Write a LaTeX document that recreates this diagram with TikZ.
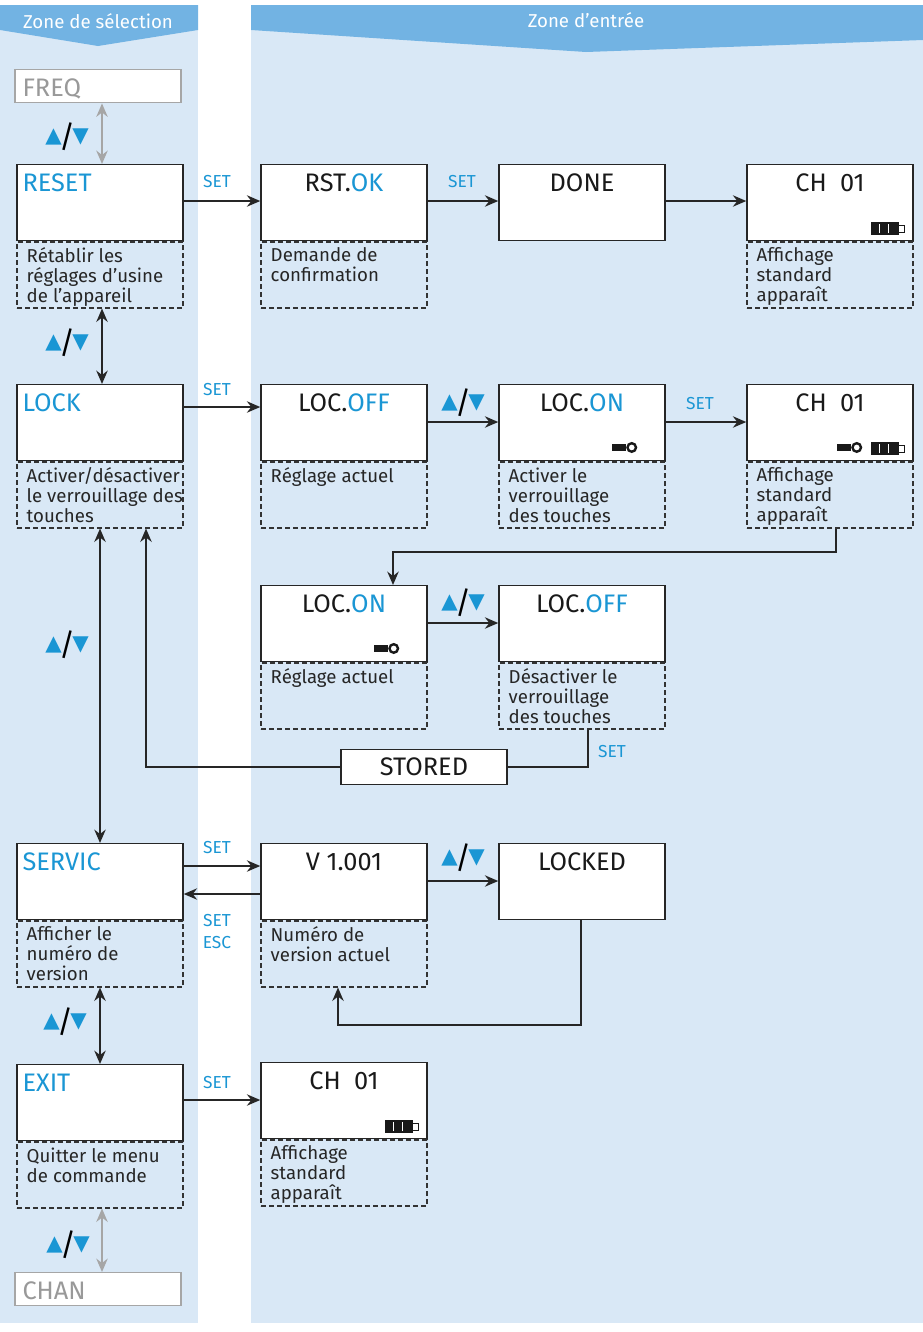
\documentclass[tikz,border=0pt]{standalone}
\usepackage{fontspec}
\setmainfont{Fira Sans}
\newfontfamily\sym{DejaVu Sans}
\usetikzlibrary{arrows.meta}
\definecolor{bg}{HTML}{D9E8F6}
\definecolor{hd}{HTML}{72B3E3}
\definecolor{bl}{HTML}{1A96D4}
\newcommand\ud{{\sym\fontsize{16}{16}\selectfont\color{bl}▲}\hspace{-2pt}\raisebox{-4pt}{\fontsize{23}{23}\selectfont/}\hspace{-2pt}{\sym\fontsize{16}{16}\selectfont\color{bl}▼}}
\begin{document}
\begin{tikzpicture}[x=0.75pt,y=-0.75pt,
  lcd/.style={draw=black!85,line width=1.1pt,fill=white,minimum width=124.5pt,minimum height=57pt,inner sep=0pt,anchor=north},
  dsc/.style={draw=black!80,dash pattern=on 3.5pt off 2.5pt,line width=0.8pt,minimum width=124.5pt,minimum height=49.5pt,inner sep=0pt,anchor=north},
  dtx/.style={anchor=north west,align=left,font=\fontsize{14}{15}\selectfont,inner sep=0pt,text=black!85},
  ttl/.style={font=\fontsize{19}{20}\selectfont,inner sep=0pt,text=black!90},
  arr/.style={-{Stealth[length=10pt,width=8.5pt]},line width=1.5pt,black!85},
  darr/.style={{Stealth[length=10pt,width=8.5pt]}-{Stealth[length=10pt,width=8.5pt]},line width=1.5pt,black!85},
  garr/.style={{Stealth[length=10pt,width=8.5pt]}-{Stealth[length=10pt,width=8.5pt]},line width=1.5pt,black!35},
  lab/.style={font=\fontsize{13}{16.5}\selectfont,text=bl,inner sep=0pt}]
\useasboundingbox (0,0) rectangle (923,1332);
\fill[white] (0,0) rectangle (923,1332);
\fill[bg] (0,5) rectangle (198,1323);
\fill[bg] (251,5) rectangle (923,1323);
\fill[hd] (0,5) -- (198,5) -- (198,30) -- (98,46) -- (0,30) -- cycle;
\fill[hd] (251,5) -- (923,5) -- (923,40) -- (586,52) -- (251,30) -- cycle;
\node[text=white,font=\fontsize{14}{15}\selectfont,inner sep=0pt] (h1) at (98,21) {Zone de sélection};
\node[text=white,font=\fontsize{14}{15}\selectfont,inner sep=0pt] (h2) at (586,20) {Zone d’entrée};
\newcommand\scr[4]{\node[lcd] (#1) at (#2,#3) {};
  \node[dsc] (#1d) at (#1.south) {};
  \node[dtx] (#1t) at ([shift={(10,6)}]#1d.north west) {#4};}
\newcommand\ctt[2]{\node[ttl,anchor=base] (#1x) at ([shift={(0,27)}]#1.north) {#2};}
\newcommand\ltt[2]{\node[ttl,anchor=base west,text=bl] (#1x) at ([shift={(6,27)}]#1.north west) {#2};}
\newcommand\bat[1]{%
  \fill[black!90] ([shift={(-43,-6)}]#1.south east) rectangle ([shift={(-15,-19)}]#1.south east);
  \draw[white,line width=0.9pt] ([shift={(-34,-8)}]#1.south east) -- ([shift={(-34,-17)}]#1.south east)
     ([shift={(-25,-8)}]#1.south east) -- ([shift={(-25,-17)}]#1.south east);
  \draw[black!90,line width=0.7pt] ([shift={(-15,-9)}]#1.south east) rectangle ([shift={(-9,-16)}]#1.south east);}
\newcommand\key[2]{%
  \fill[black!90] ([shift={(-#2-14,-10)}]#1.south east) rectangle ([shift={(-#2,-17)}]#1.south east);
  \draw[black!90,line width=1.8pt] ([shift={(-#2+6,-14)}]#1.south east) circle (3.2pt);}
% FREQ
\node[draw=black!35,line width=1.1pt,fill=white,minimum width=124.5pt,minimum height=24.75pt,anchor=north,inner sep=0pt] (freq) at (98,69) {};
\node[ttl,text=black!40,anchor=base west] (freqt) at ([shift={(8,-7)}]freq.south west) {FREQ};
% row reset
\scr{reset}{100}{164}{Rétablir les\\réglages d’usine\\de l’appareil}\ltt{reset}{RESET}
\scr{rst}{344}{164}{Demande de\\confirmation}\ctt{rst}{RST.\textcolor{bl}{OK}}
\node[lcd] (done) at (582,164) {};\ctt{done}{DONE}
\scr{ch1}{830}{164}{Affichage\\standard\\apparaît}\ctt{ch1}{CH\ \ 01}\bat{ch1}
% row lock
\scr{lock}{100}{384}{Activer/désactiver\\le verrouillage des\\touches}\ltt{lock}{LOCK}
\scr{lof}{344}{384}{Réglage actuel}\ctt{lof}{LOC.\textcolor{bl}{OFF}}
\scr{lon}{582}{384}{Activer le\\verrouillage\\des touches}\ctt{lon}{LOC.\textcolor{bl}{ON}}\key{lon}{40}
\scr{ch2}{830}{384}{Affichage\\standard\\apparaît}\ctt{ch2}{CH\ \ 01}\bat{ch2}\key{ch2}{63}
% row lock2
\scr{lon2}{344}{585}{Réglage actuel}\ctt{lon2}{LOC.\textcolor{bl}{ON}}\key{lon2}{40}
\scr{lof2}{582}{585}{Désactiver le\\verrouillage\\des touches}\ctt{lof2}{LOC.\textcolor{bl}{OFF}}
\node[draw=black!85,line width=1.1pt,fill=white,minimum width=124.5pt,minimum height=26pt,inner sep=0pt,ttl] (st) at (424,767) {STORED};
% row servic
\scr{serv}{100}{843}{Afficher le\\numéro de\\version}\ltt{serv}{SERVIC}
\scr{ver}{344}{843}{Numéro de\\version actuel}\ctt{ver}{V 1.001}
\node[lcd] (lkd) at (582,843) {};\ctt{lkd}{LOCKED}
% row exit
\scr{exit}{100}{1064}{Quitter le menu\\de commande}\ltt{exit}{EXIT}
\scr{ch3}{344}{1062}{Affichage\\standard\\apparaît}\ctt{ch3}{CH\ \ 01}\bat{ch3}
\node[draw=black!35,line width=1.1pt,fill=white,minimum width=124.5pt,minimum height=24.75pt,anchor=north,inner sep=0pt] (chan) at (98,1272) {};
\node[ttl,text=black!40,anchor=base west] (chant) at ([shift={(8,-7)}]chan.south west) {CHAN};
% vertical
\draw[garr] (freq.south -| 102,0) -- (reset.north -| 102,0);
\draw[darr] (resetd.south -| 102,0) -- (lock.north -| 102,0);
\draw[darr] (lockd.south -| 100,0) -- (serv.north -| 100,0);
\draw[darr] (servd.south -| 100,0) -- (exit.north -| 100,0);
\draw[garr] (exitd.south -| 102,0) -- (chan.north -| 102,0);
\node (u1) at (67,137) {\ud};
\node (u2) at (67,343) {\ud};
\node (u3) at (67,645) {\ud};
\node (u4) at (65,1022) {\ud};
\node (u5) at (68,1245) {\ud};
% horizontal
\draw[arr] (reset.east |- 0,201) -- (rst.west |- 0,201);
\draw[arr] (rst.east |- 0,201) -- (done.west |- 0,201);
\draw[arr] (done.east |- 0,201) -- (ch1.west |- 0,201);
\node[lab] (s1) at (217,182) {SET};
\node[lab] (s2) at (462,182) {SET};
\draw[arr] (lock.east |- 0,407) -- (lof.west |- 0,407);
\draw[arr] (lof.east |- 0,422) -- (lon.west |- 0,422);
\draw[arr] (lon.east |- 0,422) -- (ch2.west |- 0,422);
\node[lab] (s3) at (217,390) {SET};
\node (u6) at (463,403) {\ud};
\node[lab] (s4) at (700,404) {SET};
\draw[arr] (ch2d.south -| 836,0) |- (393,552) -- (lon2.north -| 393,0);
\draw[arr] (lon2.east |- 0,623) -- (lof2.west |- 0,623);
\node (u7) at (463,603) {\ud};
\draw[line width=1.5pt,black!85] (lof2d.south -| 588,0) |- (st.east);
\draw[arr] (st.west) -| (lockd.south -| 146,0);
\node[lab] (s5) at (612,752) {SET};
\draw[arr] (serv.east |- 0,866) -- (ver.west |- 0,866);
\draw[arr] (ver.west |- 0,894) -- (serv.east |- 0,894);
\node[lab] (s6) at (217,848) {SET};
\node[lab,align=center] (s7) at (217,932) {SET\\ESC};
\draw[arr] (ver.east |- 0,881) -- (lkd.west |- 0,881);
\node (u8) at (463,858) {\ud};
\draw[arr] (lkd.south -| 581,0) |- (338,1025) -- (verd.south -| 338,0);
\draw[arr] (exit.east |- 0,1100) -- (ch3.west |- 0,1100);
\node[lab] (s8) at (217,1083) {SET};
\end{tikzpicture}
\end{document}
